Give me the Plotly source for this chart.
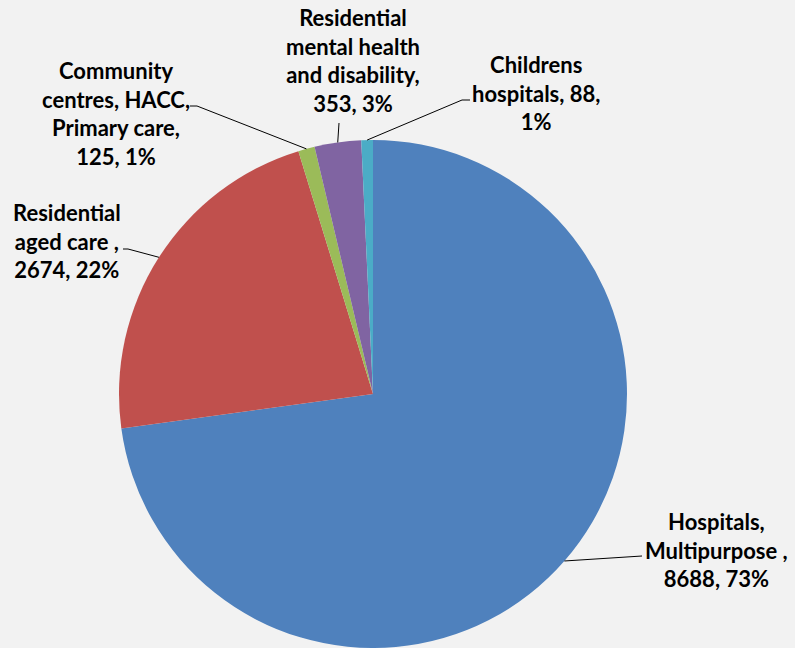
import math
import plotly.graph_objects as go

# Workforce by setting
categories = [
    "Hospitals, Multipurpose ",
    "Residential aged care ",
    "Community centres, HACC, Primary care",
    "Residential mental health and disability",
    "Childrens hospitals",
]
values = [8688, 2674, 125, 353, 88]
colors = ["#4f81bd", "#c0504d", "#9bbb59", "#8064a2", "#4bacc6"]

# wrapped label templates for each slice ({v} = value, {p} = percent)
label_templates = [
    "Hospitals,<br>Multipurpose ,<br>{v}, {p}%",
    "Residential<br>aged care ,<br>{v}, {p}%",
    "Community<br>centres, HACC,<br>Primary care,<br>{v}, {p}%",
    "Residential<br>mental health<br>and disability,<br>{v}, {p}%",
    "Childrens<br>hospitals, {v},<br>{p}%",
]

W, H = 795, 648
# pie placement in pixels
CX, CY, R = 373, 394, 254

# label centres and leader-line anchors (pixels)
label_pos = [(716, 550), (67, 241), (116, 113), (353, 61), (536, 93)]
leader_end = [
    [(642, 556)],
    [(128, 249), (123, 249)],
    [(197, 106), (190, 106)],
    [(339, 123)],
    [(462, 100), (470, 100)],
]


def px(x, y):
    return x / W, 1 - y / H


total = sum(values)
pcts = [round(v / total * 100) for v in values]

fig = go.Figure(
    go.Pie(
        labels=categories,
        values=values,
        sort=False,
        direction="clockwise",
        rotation=0,
        marker=dict(colors=colors, line=dict(width=0)),
        textinfo="none",
        hoverinfo="label+value+percent",
        showlegend=False,
        domain=dict(x=[(CX - R) / W, (CX + R) / W], y=[0, 2 * R / H]),
    )
)

shapes = []
annotations = []
cum = 0.0
for i, v in enumerate(values):
    mid = (cum + v / 2) / total
    cum += v
    ang = 2 * math.pi * mid
    ex, ey = CX + R * math.sin(ang), CY - R * math.cos(ang)
    pts = [(ex, ey)] + leader_end[i]
    path = "M " + " L ".join(f"{px(a, b)[0]},{px(a, b)[1]}" for a, b in pts)
    shapes.append(dict(type="path", xref="paper", yref="paper", path=path,
                       line=dict(color="black", width=1)))
    lx, ly = px(*label_pos[i])
    annotations.append(dict(
        x=lx, y=ly, xref="paper", yref="paper",
        text=label_templates[i].format(v=v, p=pcts[i]),
        showarrow=False, xanchor="center", yanchor="middle", align="center",
        font=dict(family="Lato", size=22, color="black", weight=700),
    ))

fig.update_layout(
    width=W, height=H,
    margin=dict(l=0, r=0, t=0, b=0),
    paper_bgcolor="#f2f2f2",
    plot_bgcolor="#f2f2f2",
    shapes=shapes,
    annotations=annotations,
)

fig.write_html("out.html")
